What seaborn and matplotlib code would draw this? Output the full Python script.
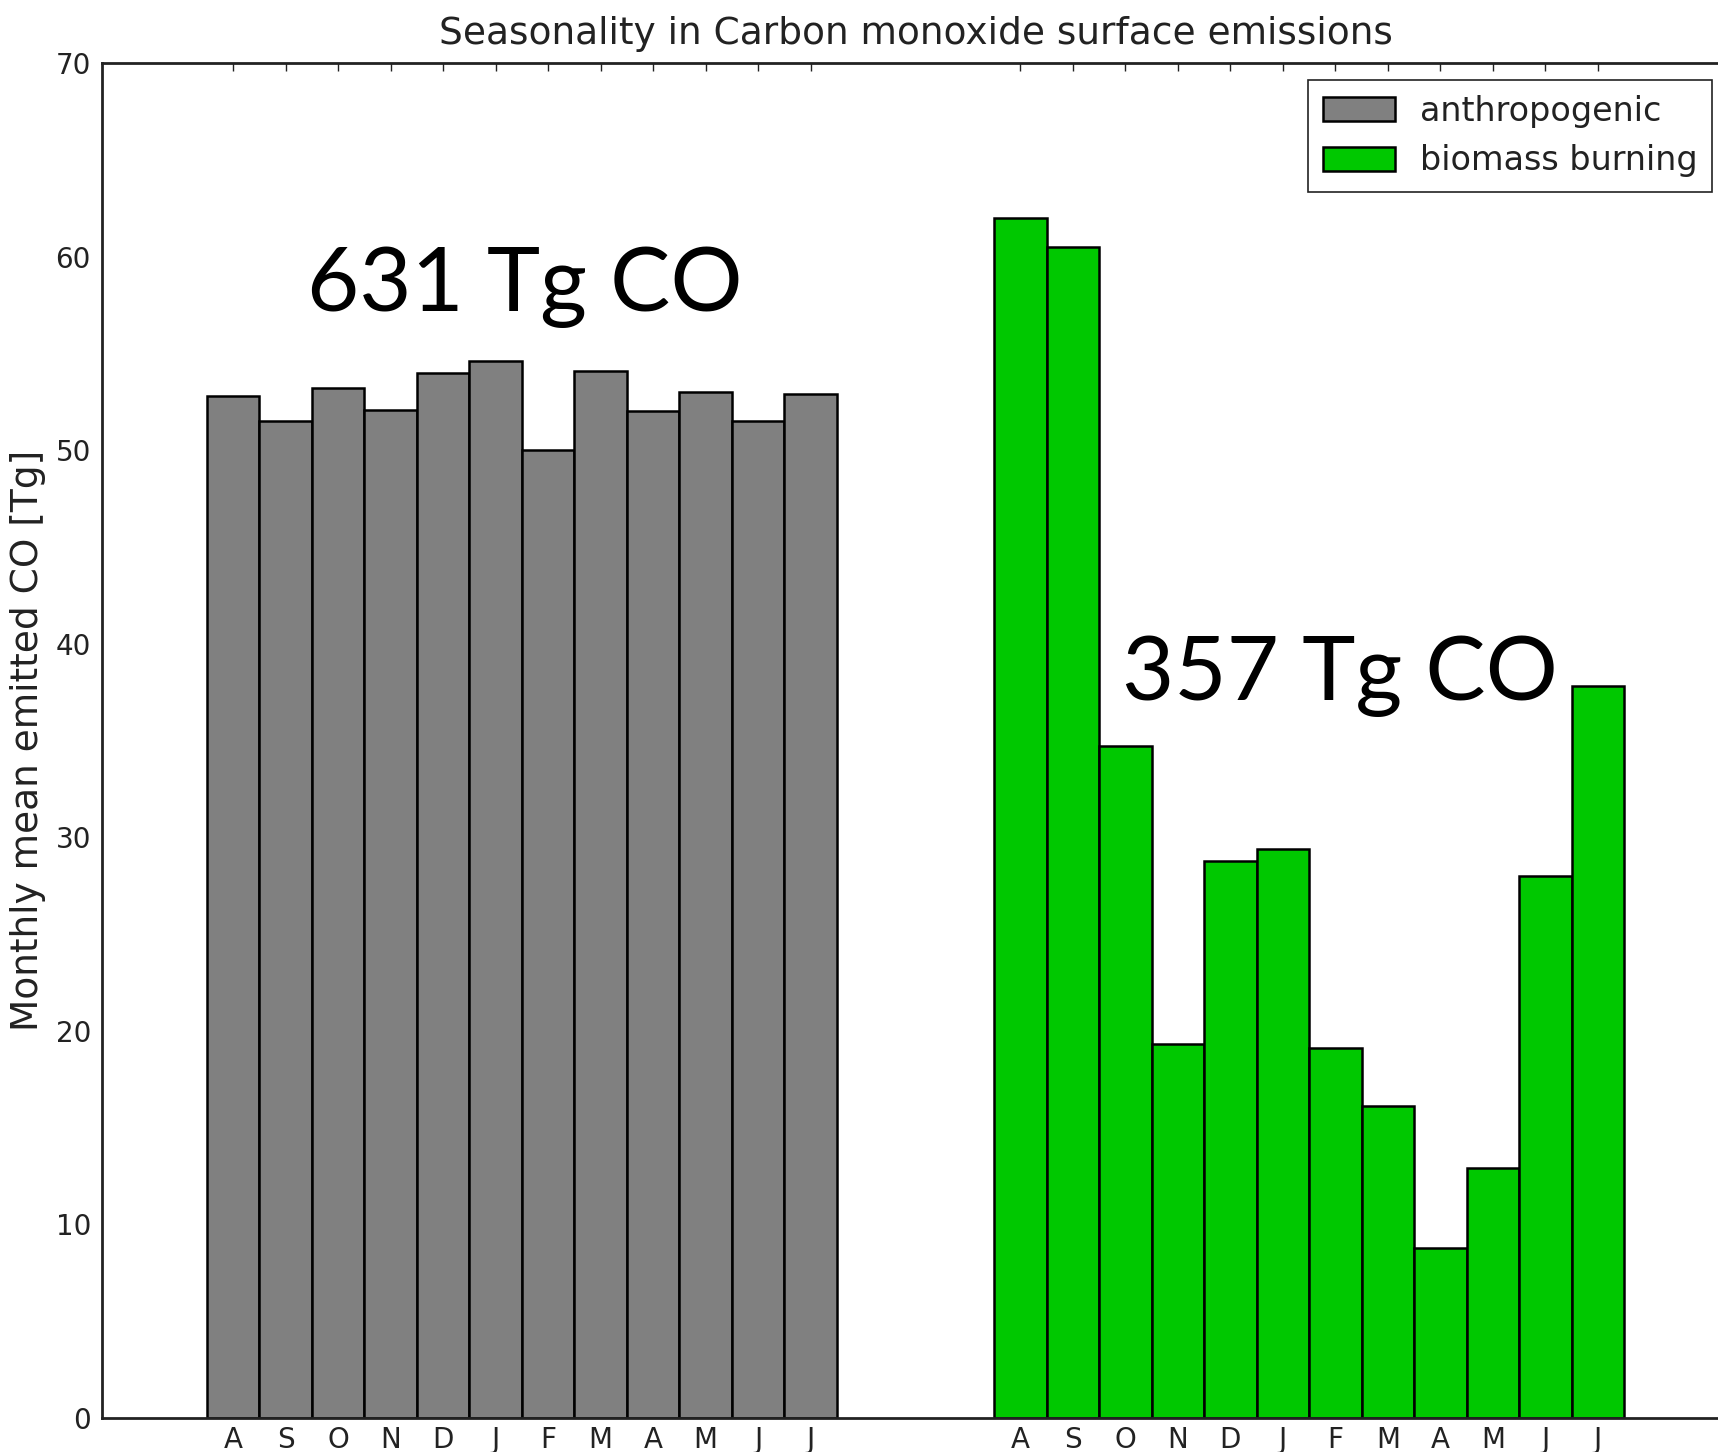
import matplotlib
matplotlib.use("Agg")
import matplotlib.pyplot as plt
from matplotlib.patches import Patch
import numpy as np
import pandas as pd
import seaborn as sns

# Monthly CO emissions, August through July
months = ["A", "S", "O", "N", "D", "J", "F", "M", "A", "M", "J", "J"]
anthropogenic = [52.8, 51.5, 53.2, 52.1, 54.0, 54.6, 50.0, 54.1, 52.0, 53.0, 51.5, 52.9]
biomass_burning = [62.0, 60.5, 34.7, 19.3, 28.8, 29.4, 19.1, 16.1, 8.8, 12.9, 28.0, 37.8]
series_names = ["anthropogenic", "biomass burning"]
series_colors = ["#808080", "#00c800"]
totals = ["631 Tg CO", "357 Tg CO"]

# bar slots: first block at 0..11, second block after a 3-slot gap
pos_anthro = np.arange(len(months))
pos_biomass = np.arange(len(months)) + len(months) + 3

df = pd.DataFrame({
    "pos": np.concatenate([pos_anthro, pos_biomass]),
    "value": anthropogenic + biomass_burning,
    "source": [series_names[0]] * len(months) + [series_names[1]] * len(months),
})

sns.set_style("white")
plt.rcParams.update({
    "font.family": ["DejaVu Sans"],
    "xtick.direction": "in",
    "ytick.direction": "in",
    "xtick.top": True,
    "ytick.right": True,
    "xtick.major.size": 6,
    "ytick.major.size": 6,
    "xtick.major.width": 1.0,
    "ytick.major.width": 1.0,
    "xtick.color": "#222222",
    "ytick.color": "#222222",
})

fig = plt.figure(figsize=(17.18, 14.52), dpi=100)
ax = fig.add_axes([0.0594, 0.0234, 0.947, 0.9332])

sns.barplot(
    data=df, x="pos", y="value", hue="source",
    palette=series_colors, hue_order=series_names,
    native_scale=True, dodge=False, width=1.0,
    edgecolor="black", linewidth=1.8, saturation=1.0,
    legend=False, ax=ax,
)

ax.set_xlim(-2.5, 28.5)
ax.set_ylim(0, 70)
ax.set_xticks(np.concatenate([pos_anthro, pos_biomass]))
ax.set_xticklabels(months + months)
ax.set_yticks(np.arange(0, 71, 10))
ax.tick_params(axis="x", labelsize=20, pad=6, labelcolor="#222222")
ax.tick_params(axis="y", labelsize=20, pad=8, labelcolor="#222222")
ax.set_xlabel("")
ax.set_ylabel("Monthly mean emitted CO [Tg]", fontsize=27, color="#222222", labelpad=7)
ax.set_title("Seasonality in Carbon monoxide surface emissions", fontsize=27,
             color="#222222", pad=14)

for sp in ax.spines.values():
    sp.set_visible(True)
    sp.set_color("#222222")
    sp.set_linewidth(2.0)

# emission totals
ax.text(5.55, 57.2, totals[0], fontsize=65, family="Lato", ha="center",
        va="baseline", color="black")
ax.text(21.09, 37.1, totals[1], fontsize=65, family="Lato", ha="center",
        va="baseline", color="black")

handles = [Patch(facecolor=c, edgecolor="black", linewidth=1.8, label=n)
           for c, n in zip(series_colors, series_names)]
leg = ax.legend(handles=handles, loc="upper right", fontsize=24, frameon=True,
                fancybox=False, framealpha=1.0, edgecolor="#222222",
                handlelength=2.15, handleheight=0.72, handletextpad=0.75,
                borderaxespad=0.5, borderpad=0.45, labelspacing=0.5)
leg.get_frame().set_linewidth(1.2)
for t in leg.get_texts():
    t.set_color("#222222")

fig.savefig("out.png", dpi=100)
